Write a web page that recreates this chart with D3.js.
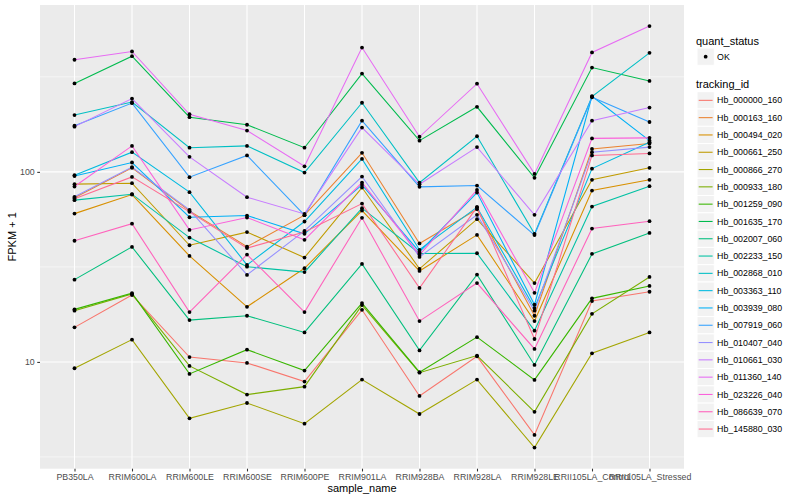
<!DOCTYPE html>
<html>
<head>
<meta charset="utf-8">
<script src="https://cdn.jsdelivr.net/npm/d3@7"></script>
<style>
  body { margin: 0; background: #fff; }
  text { font-family: "Liberation Sans", Arial, sans-serif; }
</style>
</head>
<body>
<div id="chart"></div>
<script>
// samples on the x axis
var sampleNames = ["PB350LA", "RRIM600LA", "RRIM600LE", "RRIM600SE", "RRIM600PE",
    "RRIM901LA", "RRIM928BA", "RRIM928LA", "RRIM928LE", "RRII105LA_Control", "RRII105LA_Stressed"];

var trackingIds = ["Hb_000000_160", "Hb_000163_160", "Hb_000494_020", "Hb_000661_250",
    "Hb_000866_270", "Hb_000933_180", "Hb_001259_090", "Hb_001635_170", "Hb_002007_060",
    "Hb_002233_150", "Hb_002868_010", "Hb_003363_110", "Hb_003939_080", "Hb_007919_060",
    "Hb_010407_040", "Hb_010661_030", "Hb_011360_140", "Hb_023226_040", "Hb_086639_070",
    "Hb_145880_030"];

// FPKM + 1, one row per tracking id, one value per sample
var fpkmPlusOne = [
    [15.2, 22.5, 10.6, 9.88, 7.88, 18.8, 6.62, 10.7, 4.13, 20.9, 23.4],
    [73.0, 105, 62.3, 40.4, 59.2, 126, 42.0, 63.6, 17.5, 132, 141],
    [60.3, 76, 36.1, 19.5, 31.1, 62.6, 30.1, 46.6, 16.4, 79.7, 90.8],
    [86.2, 87.2, 41.1, 48.2, 35.4, 82.7, 30.9, 56.4, 26.0, 90.8, 105],
    [9.26, 13.1, 5.05, 6.08, 4.73, 8.07, 5.32, 8.07, 3.54, 11.1, 14.3],
    [18.6, 22.8, 9.53, 6.73, 7.41, 19.9, 8.78, 10.8, 5.46, 17.9, 28.0],
    [18.9, 23.0, 8.65, 11.6, 9.0, 20.4, 8.83, 13.5, 8.04, 21.6, 25.1],
    [292, 406, 194, 177, 134, 329, 146, 220, 93.0, 354, 301],
    [27.1, 40.3, 16.6, 17.5, 14.3, 32.8, 11.5, 28.8, 9.64, 37.0, 47.7],
    [71.0, 76.3, 45.1, 31.7, 29.7, 64.4, 37.2, 37.3, 14.6, 65.7, 84.1],
    [199, 233, 134, 137, 99.2, 231, 87.8, 154, 47.2, 249, 423],
    [96.1, 127, 78.2, 32.4, 54.8, 117, 38.9, 65.2, 19.2, 104, 143],
    [95.0, 112, 57.7, 58.9, 47.2, 85.4, 37.9, 77.8, 20.0, 250, 146],
    [175, 230, 93.8, 122, 59.2, 186, 83.4, 84.7, 46.5, 247, 183],
    [73.9, 106, 63.1, 28.7, 48.9, 94.5, 35.7, 59.4, 18.6, 127, 135],
    [173, 243, 120, 73.6, 60.1, 171, 86.0, 135, 59.4, 186, 218],
    [389, 430, 201, 165, 107, 451, 153, 291, 97.6, 425, 585],
    [83.7, 137, 49.5, 57.5, 43.9, 87.8, 36.6, 80.4, 23.1, 150, 151],
    [43.4, 53.4, 18.3, 36.7, 18.3, 57.3, 16.4, 26.0, 11.7, 50.3, 55.0],
    [72.1, 94.1, 61.6, 39.7, 48.3, 68.1, 24.5, 65.2, 13.2, 122, 125]
];

var yTicks = [10, 100];
var yMinorTicks = [Math.sqrt(10), Math.sqrt(1000), Math.sqrt(100000)];
var quantStatus = ["OK"];

// ggplot default hue palette for 20 groups
var palette = ["#F8766D", "#EA8331", "#D89000", "#C09B00", "#A3A500", "#7CAE00", "#39B600",
    "#00BB4E", "#00BF7D", "#00C1A3", "#00BFC4", "#00BAE0", "#00B0F6", "#35A2FF", "#9590FF",
    "#C77CFF", "#E76BF3", "#FA62DB", "#FF62BC", "#FF6C91"];

var W = 800, H = 500;
var panel = { left: 40, right: 684, top: 5, bottom: 468.7 };

var svg = d3.select("#chart").append("svg")
    .attr("width", W).attr("height", H);

// scales
var x = d3.scalePoint()
    .domain(sampleNames)
    .range([panel.left, panel.right])
    .padding(0.6);

var allVals = d3.merge(fpkmPlusOne);
var lo = Math.log10(d3.min(allVals)), hi = Math.log10(d3.max(allVals));
var pad = (hi - lo) * 0.05;
var y = d3.scaleLog()
    .domain([Math.pow(10, lo - pad), Math.pow(10, hi + pad)])
    .range([panel.bottom, panel.top]);

var color = d3.scaleOrdinal().domain(trackingIds).range(palette);

// panel background
svg.append("rect")
    .attr("x", panel.left).attr("y", panel.top)
    .attr("width", panel.right - panel.left)
    .attr("height", panel.bottom - panel.top)
    .attr("fill", "#EBEBEB");

// grid lines
svg.append("g").selectAll("line")
    .data(yMinorTicks.filter(function (t) { return y(t) > panel.top && y(t) < panel.bottom; }))
    .enter().append("line")
    .attr("x1", panel.left).attr("x2", panel.right)
    .attr("y1", function (d) { return y(d); })
    .attr("y2", function (d) { return y(d); })
    .attr("stroke", "#fff").attr("stroke-width", 0.55);

svg.append("g").selectAll("line")
    .data(yTicks)
    .enter().append("line")
    .attr("x1", panel.left).attr("x2", panel.right)
    .attr("y1", function (d) { return y(d); })
    .attr("y2", function (d) { return y(d); })
    .attr("stroke", "#fff").attr("stroke-width", 1.07);

svg.append("g").selectAll("line")
    .data(sampleNames)
    .enter().append("line")
    .attr("x1", function (d) { return x(d); })
    .attr("x2", function (d) { return x(d); })
    .attr("y1", panel.top).attr("y2", panel.bottom)
    .attr("stroke", "#fff").attr("stroke-width", 1.07);

// lines, one per tracking id
var series = trackingIds.map(function (id, i) {
    return {
        id: id,
        values: sampleNames.map(function (s, j) { return { sample: s, v: fpkmPlusOne[i][j] }; })
    };
});

var line = d3.line()
    .x(function (d) { return x(d.sample); })
    .y(function (d) { return y(d.v); });

svg.append("g").selectAll("path")
    .data(series)
    .enter().append("path")
    .attr("d", function (d) { return line(d.values); })
    .attr("fill", "none")
    .attr("stroke", function (d) { return color(d.id); })
    .attr("stroke-width", 1.07);

// points
svg.append("g").selectAll("circle")
    .data(d3.merge(series.map(function (s) { return s.values; })))
    .enter().append("circle")
    .attr("cx", function (d) { return x(d.sample); })
    .attr("cy", function (d) { return y(d.v); })
    .attr("r", 1.9)
    .attr("fill", "#000");

// axes
var xAxis = svg.append("g")
    .attr("transform", "translate(0," + panel.bottom + ")")
    .call(d3.axisBottom(x).tickSize(2.75).tickPadding(2.5));
var yAxis = svg.append("g")
    .attr("transform", "translate(" + panel.left + ",0)")
    .call(d3.axisLeft(y).tickValues(yTicks).tickFormat(d3.format("d")).tickSize(2.75).tickPadding(2.5));

[xAxis, yAxis].forEach(function (a) {
    a.select(".domain").remove();
    a.selectAll(".tick line").attr("stroke", "#333333").attr("stroke-width", 1.07);
    a.selectAll(".tick text")
        .attr("fill", "#4D4D4D")
        .style("font-size", "8.8px")
        .style("font-family", "'Liberation Sans', Arial, sans-serif");
});

// axis titles
svg.append("text")
    .attr("x", (panel.left + panel.right) / 2)
    .attr("y", 492)
    .attr("text-anchor", "middle")
    .style("font-size", "11px")
    .text("sample_name");

svg.append("text")
    .attr("transform", "translate(16," + ((panel.top + panel.bottom) / 2) + ") rotate(-90)")
    .attr("text-anchor", "middle")
    .style("font-size", "11px")
    .text("FPKM + 1");

// legend: quant_status
var lx = 696, keySize = 17.3;
svg.append("text")
    .attr("x", lx).attr("y", 44.5)
    .style("font-size", "11px")
    .text("quant_status");

var qs = svg.append("g").selectAll("g")
    .data(quantStatus)
    .enter().append("g")
    .attr("transform", function (d, i) { return "translate(" + (lx + 1) + "," + (48 + i * keySize) + ")"; });
qs.append("rect")
    .attr("width", keySize).attr("height", keySize)
    .attr("fill", "#F2F2F2").attr("stroke", "#fff").attr("stroke-width", 1);
qs.append("circle")
    .attr("cx", keySize / 2).attr("cy", keySize / 2).attr("r", 1.9).attr("fill", "#000");
qs.append("text")
    .attr("x", keySize + 2.8).attr("y", keySize / 2 + 3.1)
    .style("font-size", "8.8px")
    .text(function (d) { return d; });

// legend: tracking_id
svg.append("text")
    .attr("x", lx).attr("y", 87.5)
    .style("font-size", "11px")
    .text("tracking_id");

var items = svg.append("g").selectAll("g")
    .data(trackingIds)
    .enter().append("g")
    .attr("transform", function (d, i) { return "translate(" + (lx + 1) + "," + (91.7 + i * keySize) + ")"; });
items.append("rect")
    .attr("width", keySize).attr("height", keySize)
    .attr("fill", "#F2F2F2").attr("stroke", "#fff").attr("stroke-width", 1);
items.append("line")
    .attr("x1", 1.7).attr("x2", keySize - 1.7)
    .attr("y1", keySize / 2).attr("y2", keySize / 2)
    .attr("stroke", function (d) { return color(d); })
    .attr("stroke-width", 1.07);
items.append("text")
    .attr("x", keySize + 2.8).attr("y", keySize / 2 + 3.1)
    .style("font-size", "8.8px")
    .text(function (d) { return d; });
</script>
</body>
</html>
